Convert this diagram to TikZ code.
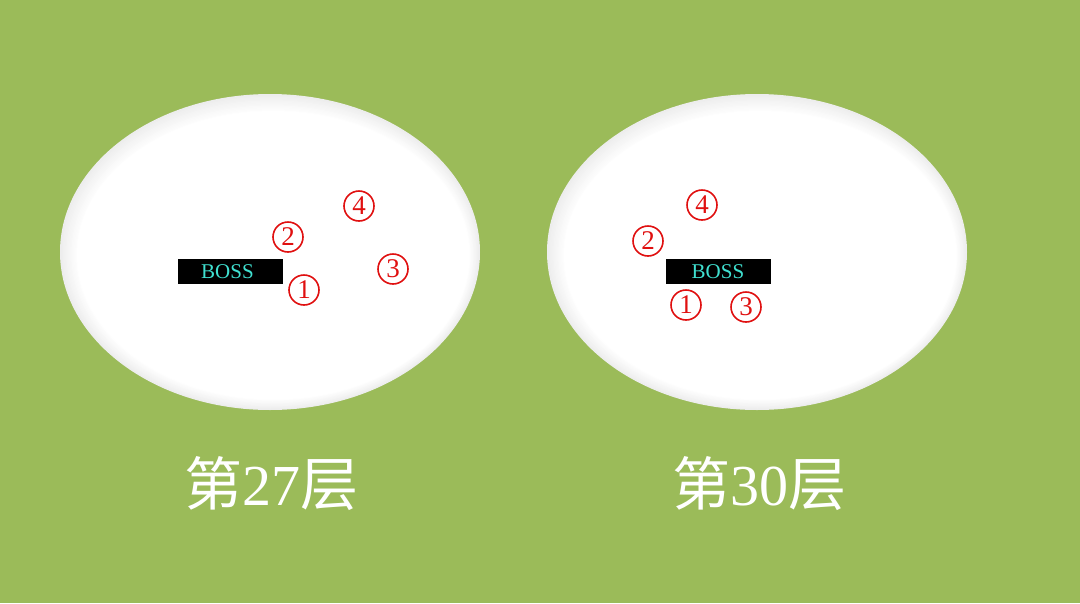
\documentclass[tikz,border=0pt]{standalone}
\usepackage{fontspec}
\newfontfamily\cjk{Noto Sans CJK SC}
\newfontfamily\serifnum{Liberation Serif}
\definecolor{bggreen}{HTML}{9BBB59}
\definecolor{numred}{HTML}{E01010}
\definecolor{bosscyan}{HTML}{40E0D0}
\tikzset{
  num/.style={circle,draw=numred,line width=1.6pt,minimum size=30pt,inner sep=0pt,text=numred,font=\serifnum\fontsize{27}{27}\selectfont},
  bossbox/.style={fill=black,minimum width=105pt,minimum height=25pt,inner sep=0pt,text=bosscyan,font=\serifnum\fontsize{21}{21}\selectfont},
  floorlabel/.style={text=white,font=\cjk\fontsize{58}{58}\selectfont,inner sep=0pt}
}
\newcommand{\fieldellipse}[2]{%
  \foreach \i in {0,...,14}{%
    \pgfmathsetmacro{\shade}{100-14+\i}%
    \fill[white!\shade!gray] (#1+0.25*\i,#2+0.25*\i) ellipse ({210-\i} and {158-\i});
  }%
  \fill[white] (#1+3,#2+3) ellipse (196 and 144);
}
\begin{document}
\begin{tikzpicture}[x=1pt,y=-1pt]
\fill[bggreen] (0,0) rectangle (1080,603);
\useasboundingbox (0,0) rectangle (1080,603);
% ellipses
\fieldellipse{270}{252}
\fieldellipse{757}{252}
% left field
\node[bossbox] (bossL) at (230.5,271.5) {\hspace*{-6pt}BOSS};
\node[num] (l2) at (288,237) {2};
\node[num] (l4) at (359,206) {4};
\node[num] (l3) at (393,269) {3};
\node[num] (l1) at (304,290) {1};
% right field
\node[bossbox] (bossR) at (718,271.5) {BOSS};
\node[num] (r4) at (702,205) {4};
\node[num] (r2) at (648,241) {2};
\node[num] (r1) at (686,305) {1};
\node[num] (r3) at (746,307) {3};
% labels
\node[floorlabel] (labL) at (271,484) {第{\serifnum 27}层};
\node[floorlabel] (labR) at (759,484) {第{\serifnum 30}层};
\end{tikzpicture}
\end{document}
